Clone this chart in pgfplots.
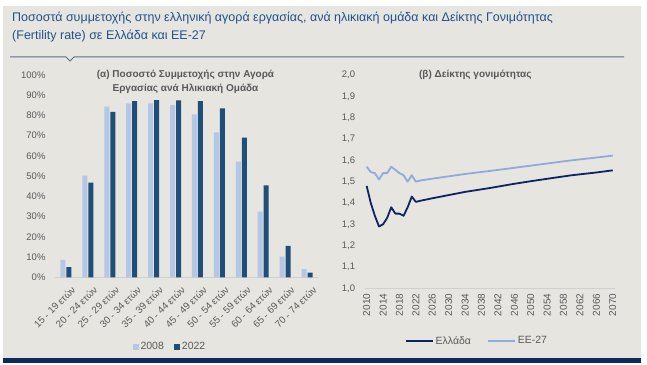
\documentclass[border=0pt]{standalone}
\usepackage{fontspec}
\setmainfont{Liberation Sans}
\usepackage{pgfplots}
\pgfplotsset{compat=1.18}
\definecolor{panelgray}{HTML}{E6E5E0}
\definecolor{navybar}{HTML}{0E2A5C}
\definecolor{titleblue}{HTML}{22508F}
\definecolor{rulecol}{HTML}{5D6F8D}
\definecolor{tickgray}{HTML}{595959}
\definecolor{barlight}{HTML}{B4C7E7}
\definecolor{bardark}{HTML}{1F4E79}
\definecolor{grline}{HTML}{0C2461}
\definecolor{euline}{HTML}{8FAADC}
\definecolor{axgray}{HTML}{D0D0D0}

\pgfplotstableread{
x y2008 y2022
0 8.6 5.0
1 50.3 46.8
2 84.4 81.8
3 86.0 87.1
4 86.0 87.6
5 85.1 87.4
6 80.5 87.1
7 71.6 83.5
8 57.2 69.0
9 32.5 45.4
10 10.2 15.5
11 4.1 2.3
}\participation

\pgfplotstableread{
year gr
2010 1.48
2011 1.40
2012 1.34
2013 1.29
2014 1.30
2015 1.33
2016 1.38
2017 1.35
2018 1.35
2019 1.34
2020 1.38
2021 1.43
2022 1.405
2023 1.41
2026 1.422
2030 1.437
2034 1.452
2040 1.47
2046 1.49
2050 1.502
2056 1.519
2060 1.53
2066 1.543
2070 1.553
}\greece

\pgfplotstableread{
year eu
2010 1.57
2011 1.545
2012 1.54
2013 1.51
2014 1.54
2015 1.54
2016 1.57
2017 1.555
2018 1.54
2019 1.53
2020 1.50
2021 1.53
2022 1.50
2023 1.505
2026 1.514
2030 1.525
2034 1.536
2040 1.55
2046 1.565
2050 1.575
2056 1.59
2060 1.60
2066 1.613
2070 1.622
}\eu

\begin{document}
\begin{tikzpicture}
\fill[white] (0pt,0pt) rectangle (647pt,364pt);
\fill[panelgray] (3pt,6pt) rectangle (641pt,358pt);
\fill[navybar] (3pt,1pt) rectangle (641pt,6pt);
\node[anchor=base west, inner sep=0pt, text=titleblue, font=\fontsize{12.5}{14}\selectfont] at (12pt,342pt) {Ποσοστά συμμετοχής στην ελληνική αγορά εργασίας, ανά ηλικιακή ομάδα και Δείκτης Γονιμότητας};
\node[anchor=base west, inner sep=0pt, text=titleblue, font=\fontsize{12.5}{14}\selectfont] at (12pt,324pt) {(Fertility rate) σε Ελλάδα και ΕΕ-27};
\draw[rulecol, line width=1pt] (10pt,307pt) -- (66pt,307pt) -- (70pt,303pt) -- (74pt,307pt) -- (624pt,307pt);

\node[text=tickgray, font=\bfseries\fontsize{10}{13.3}\selectfont, align=center] at (185.5pt,282pt) {(α) Ποσοστό Συμμετοχής στην Αγορά\\Εργασίας ανά Ηλικιακή Ομάδα};
\node[text=tickgray, font=\bfseries\fontsize{10}{12}\selectfont] at (475.3pt,289pt) {(β) Δείκτης γονιμότητας};

\begin{axis}[at={(55pt,86.7pt)}, anchor=south west, scale only axis,
  width=263pt, height=202.3pt,
  xmin=-0.5, xmax=11.5, ymin=0, ymax=100,
  ybar=1pt, bar width=5pt,
  axis lines*=left,
  x axis line style={draw=axgray, -},
  y axis line style={draw=none},
  major tick length=0pt,
  ytick={0,10,...,100},
  yticklabel={\pgfmathprintnumber{\tick}\%},
  yticklabel style={text=tickgray, font=\fontsize{9.5}{11}\selectfont, xshift=-6pt},
  xtick={0,...,11},
  xticklabels={15 - 19 ετών,20 - 24 ετών,25 - 29 ετών,30 - 34 ετών,35 - 39 ετών,40 - 44 ετών,45 - 49 ετών,50 - 54 ετών,55 - 59 ετών,60 - 64 ετών,65 - 69 ετών,70 - 74 ετών},
  xticklabel style={rotate=45, anchor=north east, text=tickgray, font=\fontsize{9.8}{12}\selectfont, inner sep=1pt, xshift=-1pt, yshift=-8pt},
  /pgf/number format/assume math mode=true,
  legend style={at={(0.437,-0.3445)}, anchor=center, draw=none, fill=none, font=\fontsize{10.5}{12}\selectfont, text=tickgray, legend columns=2, /tikz/every even column/.append style={column sep=8pt}},
  legend image code/.code={\fill[#1] (0pt,-3pt) rectangle (6pt,3pt);},
]
\addplot[fill=barlight, draw=none] table[x=x, y=y2008] {\participation};
\addplot[fill=bardark, draw=none] table[x=x, y=y2022] {\participation};
\legend{2008,2022}
\end{axis}

\begin{axis}[at={(364.6pt,75.7pt)}, anchor=south west, scale only axis,
  width=250.2pt, height=213.3pt,
  xmin=2009.5, xmax=2070.5, ymin=1, ymax=2,
  axis lines*=left,
  x axis line style={draw=axgray, -},
  y axis line style={draw=none},
  major tick length=0pt,
  ytick={1.0,1.1,1.2,1.3,1.4,1.5,1.6,1.7,1.8,1.9,2.0},
  yticklabel style={text=tickgray, font=\fontsize{9.5}{11}\selectfont, xshift=-6pt, /pgf/number format/.cd, fixed, fixed zerofill, precision=1, use comma},
  xtick={2010,2014,...,2070},
  xticklabel style={rotate=90, anchor=east, text=tickgray, font=\fontsize{10}{12}\selectfont, xshift=-2pt, /pgf/number format/.cd, set thousands separator={}},
  /pgf/number format/assume math mode=true,
  legend style={at={(0.449,-0.247)}, anchor=center, draw=none, fill=none, font=\fontsize{10.5}{12}\selectfont, text=tickgray, legend columns=2, /tikz/every even column/.append style={column sep=14pt}},
  legend image code/.code={\draw[#1] (0pt,0pt) -- (27pt,0pt);},
]
\addplot[grline, line width=1.8pt, line join=round] table[x=year, y=gr] {\greece};
\addplot[euline, line width=1.8pt, line join=round] table[x=year, y=eu] {\eu};
\legend{Ελλάδα,ΕΕ-27}
\end{axis}
\end{tikzpicture}
\end{document}
